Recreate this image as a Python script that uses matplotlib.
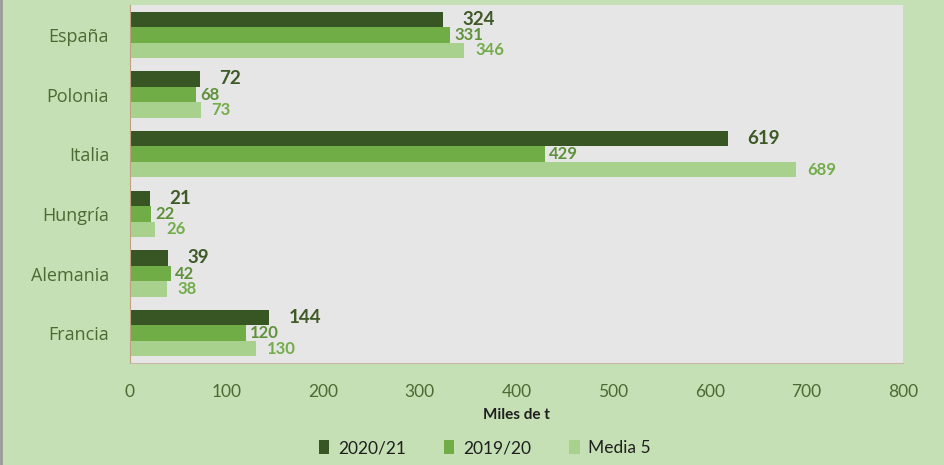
import matplotlib.pyplot as plt
import numpy as np
from matplotlib.lines import Line2D

paises = ["España", "Polonia", "Italia", "Hungría", "Alemania", "Francia"]
v2021 = [324, 72, 619, 21, 39, 144]
v1920 = [331, 68, 429, 22, 42, 120]
media5 = [346, 73, 689, 26, 38, 130]
series = ["2020/21", "2019/20", "Media 5"]

plt.rcParams['font.family'] = ['Lato', 'DejaVu Sans']

fondo = '#c5e0b4'
c_osc, c_med, c_cla = '#375623', '#70ad47', '#a9d18e'
t_osc, t_med, t_cla = '#3d5a27', '#5f913a', '#72ad4a'

fig = plt.figure(figsize=(9.45, 4.65), dpi=100, facecolor=fondo)
ax = fig.add_axes([130/945, 1-363/465, (903-130)/945, (363-5)/465])
ax.set_facecolor('#e7e6e6')

y = np.arange(len(paises))
h = 0.26
b1 = ax.barh(y - h, v2021, h, color=c_osc, label=series[0])
b2 = ax.barh(y, v1920, h, color=c_med, label=series[1])
b3 = ax.barh(y + h, media5, h, color=c_cla, label=series[2])

ax.bar_label(b1, padding=14, color=t_osc, fontsize=13.5, fontweight='bold')
ax.bar_label(b2, padding=3, color=t_med, fontsize=12, fontweight='bold')
ax.bar_label(b3, padding=8, color=t_cla, fontsize=12, fontweight='bold')

ax.set_xlim(0, 800)
ax.set_ylim(len(paises) - 0.5, -0.5)
ax.set_xticks(range(0, 801, 100))
ax.set_yticks(y)
ax.set_yticklabels(paises, fontsize=13, color='#4a6b34', family=['Open Sans', 'DejaVu Sans'])
ax.tick_params(axis='x', labelsize=12.5, colors='#4a6b34', length=0, pad=15)
ax.tick_params(axis='y', length=0, pad=15)
for s in ['top', 'right']:
    ax.spines[s].set_visible(False)
ax.spines['left'].set_color('#c0a080')
ax.spines['bottom'].set_color('#c8b8a8')

ax.set_xlabel("Miles de t", fontsize=11, fontweight='bold', color='#1f1f1f', labelpad=6)

fig.legend(handles=[b1, b2, b3], labels=series, loc='center', bbox_to_anchor=(0.513, 1-448/465),
           ncol=3, frameon=False, fontsize=12.5, handlelength=0.6, handleheight=0.9,
           columnspacing=2.2, handletextpad=0.5, labelcolor='#1f1f1f')

fig.add_artist(Line2D([0.001, 0.001], [0, 1], transform=fig.transFigure, color='#9a9a9a', lw=2))

fig.savefig("out.png", dpi=100, facecolor=fondo)
